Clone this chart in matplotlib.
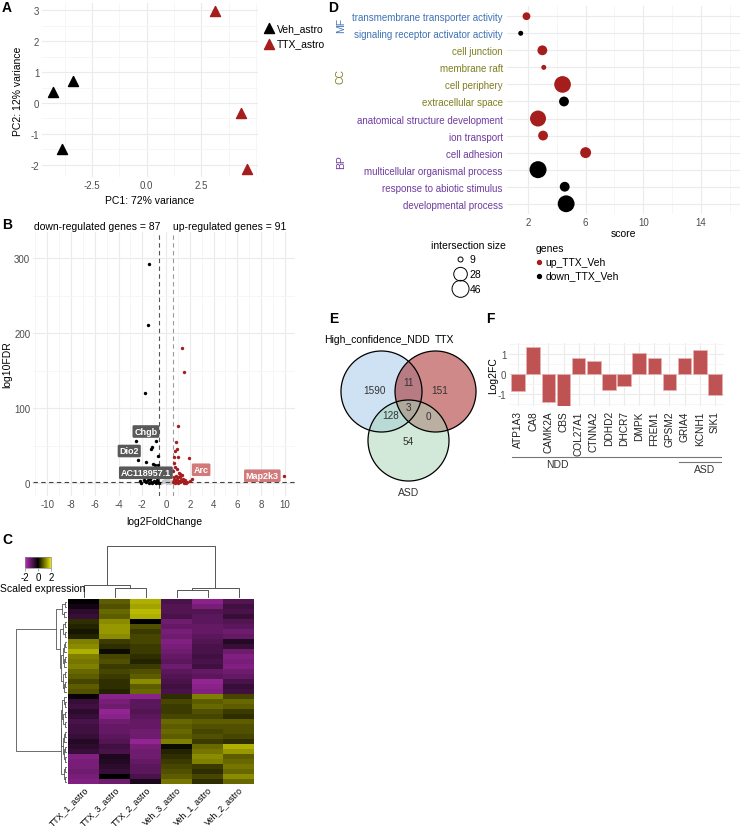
import numpy as np
import matplotlib
matplotlib.use('Agg')
import matplotlib.pyplot as plt
import matplotlib.transforms as mtransforms
from matplotlib.colors import LinearSegmentedColormap
from matplotlib.patches import Circle
from matplotlib.ticker import MultipleLocator

plt.rcParams['font.family'] = ['Liberation Sans', 'DejaVu Sans']
plt.rcParams['axes.unicode_minus'] = False

# ---------------- data ----------------
# A) PCA
pca_groups = ['Veh_astro', 'TTX_astro']
veh_pc1 = [-4.3, -3.4, -3.9]
veh_pc2 = [0.37, 0.70, -1.48]
ttx_pc1 = [3.15, 4.3, 4.6]
ttx_pc2 = [2.98, -0.33, -2.13]

# B) volcano
n_down = 87
n_up = 91
down_lfc = [-1.43, -1.50, -1.76, -0.80, -2.50, -0.85, -1.25, -1.15, -0.65, -2.35,
            -1.70, -1.10, -0.95, -0.70, -2.00, -1.80, -1.60, -1.40, -1.30, -1.20,
            -1.05, -0.90, -0.75, -0.65, -2.20, -1.90, -1.55, -1.35, -1.00, -0.80,
            -0.70, -1.65, -1.45, -1.25, -0.85, -2.10, -1.75, -1.15, -0.95, -0.62]
down_fdr = [293, 211, 120, 65, 57, 57, 46, 48, 37, 31,
            29, 26, 25, 25, 12, 14, 10, 8, 12, 9,
            13, 11, 8, 14, 3, 5, 4, 6, 3, 4,
            2, 2, 1, 2, 1, 1, 3, 1, 2, 1]
up_lfc = [1.37, 1.54, 1.03, 0.84, 0.90, 0.75, 1.93, 0.70, 0.98, 0.65,
          0.72, 0.88, 1.05, 1.20, 0.62, 0.80, 1.00, 1.15, 1.30, 1.45,
          0.68, 0.78, 0.95, 1.10, 1.25, 1.40, 1.60, 1.80, 2.16, 2.05,
          0.60, 0.85, 1.50, 1.70, 9.90, 0.75, 1.00, 0.66, 1.20, 0.90]
up_fdr = [180, 148, 77, 55, 46, 43, 34, 35, 35, 27,
          22, 19, 14, 12, 16, 10, 9, 8, 11, 6,
          5, 4, 6, 3, 5, 3, 4, 2, 6, 3,
          2, 2, 1, 1, 10, 1, 1, 8, 2, 3]
ns_lfc = [-0.40, -0.30, -0.20, -0.10, 0.00, 0.10, 0.20, 0.30, 0.40, -0.05, 0.05, 0.15, -0.15]
ns_fdr = [1, 3, 2, 5, 4, 2, 6, 1, 3, 8, 1, 2, 3]
lab_genes = ['Chgb', 'Dio2', 'AC118957.1', 'Arc', 'Map2k3']
lab_lfc = [-1.7, -3.1, -1.7, 2.95, 8.1]
lab_fdr = [69, 43, 14, 18, 10]
lab_dir = ['down', 'down', 'down', 'up', 'up']

# C) heatmap (row blocks, scaled expression)
samples = ['TTX_1_astro', 'TTX_3_astro', 'TTX_2_astro', 'Veh_3_astro', 'Veh_1_astro', 'Veh_2_astro']
heat = np.array([
    [0.0, 0.8, 1.5, -0.8, -1.5, -0.9],
    [-0.2, 0.7, 1.4, -0.9, -1.3, -0.7],
    [-0.5, 0.9, 1.6, -0.9, -0.9, -0.8],
    [-0.6, 0.8, 1.5, -0.8, -1.0, -0.6],
    [0.4, 1.2, 0.0, -1.2, -1.0, -0.9],
    [0.3, 1.3, 0.7, -1.1, -1.1, -1.0],
    [0.2, 1.3, 0.5, -1.3, -1.1, -1.2],
    [0.3, 1.2, 0.6, -1.2, -1.0, -1.1],
    [1.1, 0.5, 0.6, -1.4, -0.9, -0.4],
    [1.2, 0.4, 0.5, -1.3, -0.8, -0.6],
    [1.5, 0.1, 0.5, -1.2, -0.8, -1.2],
    [1.1, 0.6, 0.4, -1.1, -0.7, -1.4],
    [1.0, 0.7, 0.3, -1.0, -0.8, -1.3],
    [1.1, 0.5, 0.5, -1.2, -0.7, -1.4],
    [0.9, 0.6, 0.7, -1.0, -1.1, -1.2],
    [0.8, 0.5, 0.8, -0.9, -1.0, -1.1],
    [0.6, 0.4, 1.2, -0.8, -1.6, -0.8],
    [0.8, 0.4, 0.8, -0.7, -1.5, -0.6],
    [0.7, 0.3, 0.9, -0.8, -1.4, -0.7],
    [-0.1, -1.5, -1.5, 0.4, 1.1, 0.6],
    [-0.6, -1.3, -1.0, 0.6, 0.8, 0.9],
    [-0.7, -1.2, -1.0, 0.5, 0.9, 0.8],
    [-0.5, -1.6, -0.9, 0.5, 0.7, 0.5],
    [-0.6, -1.5, -1.0, 0.6, 0.6, 0.4],
    [-0.8, -1.2, -1.1, 0.9, 0.8, 0.8],
    [-0.7, -1.1, -1.1, 0.8, 0.7, 0.7],
    [-0.7, -1.1, -1.2, 0.9, 0.6, 0.7],
    [-0.6, -1.0, -1.2, 0.8, 0.7, 0.6],
    [-0.4, -0.9, -1.6, 1.1, 0.5, 0.4],
    [-0.5, -0.7, -1.3, 0.1, 0.9, 1.5],
    [-0.6, -0.8, -1.2, 0.3, 1.0, 1.3],
    [-1.4, -0.3, -1.2, 0.4, 1.2, 0.8],
    [-1.3, -0.4, -1.1, 0.5, 1.1, 0.9],
    [-1.3, -0.5, -1.0, 0.6, 0.5, 1.0],
    [-1.2, -0.6, -1.0, 0.7, 0.4, 0.9],
    [-1.3, 0.0, -0.8, 0.8, 0.6, 1.2],
    [-1.4, -1.2, -0.3, 1.0, 0.4, 0.9],
])
# dendrograms: (left, right, merge height)
col_tree = ((0, (1, 2, 8.7), 12.3), ((3, 4, 7.3), 5, 8.7), 50.7)
row_top = (((0, 1, 1.5), (2, 3, 2), 4),
           (((4, 5, 1.5), (6, 7, 1.5), 3),
            ((((8, 9, 1), 10, 2), ((11, 12, 1), 13, 2), 3.5),
             ((14, 15, 1.5), ((16, 17, 1), 18, 2), 3), 5), 6.5), 10)
row_bot = ((((19, (20, 21, 1), 2), ((22, 23, 1.5), (24, 25, 1.5), 3), 4),
            ((((26, 27, 1), 28, 2), ((29, 30, 1), (31, 32, 1.5), 2.5), 3.5)), 5),
           ((33, 34, 1), (35, 36, 1.5), 2.5), 5.5)
row_tree = (row_top, row_bot, 51)

# D) GO enrichment
go_terms = ['transmembrane transporter activity', 'signaling receptor activator activity',
            'cell junction', 'membrane raft', 'cell periphery', 'extracellular space',
            'anatomical structure development', 'ion transport', 'cell adhesion',
            'multicellular organismal process', 'response to abiotic stimulus',
            'developmental process']
go_source = ['MF', 'MF', 'CC', 'CC', 'CC', 'CC', 'BP', 'BP', 'BP', 'BP', 'BP', 'BP']
go_score = [1.9, 1.5, 3.0, 3.1, 4.4, 4.5, 2.7, 3.05, 6.0, 2.7, 4.55, 4.65]
go_size = [11, 9, 15, 9, 44, 15, 40, 15, 18, 46, 15, 45]
go_genes = ['up_TTX_Veh', 'down_TTX_Veh', 'up_TTX_Veh', 'up_TTX_Veh', 'up_TTX_Veh', 'down_TTX_Veh',
            'up_TTX_Veh', 'up_TTX_Veh', 'up_TTX_Veh', 'down_TTX_Veh', 'down_TTX_Veh', 'down_TTX_Veh']
size_breaks = [9, 28, 46]

# E) Venn
venn_sets = ['High_confidence_NDD', 'TTX', 'ASD']
venn_counts = {'100': 1590, '010': 151, '001': 54, '110': 11, '101': 128, '011': 0, '111': 3}

# F) Log2FC of NDD/ASD genes
f_genes = ['ATP1A3', 'CA8', 'CAMK2A', 'CBS', 'COL27A1', 'CTNNA2', 'DDHD2', 'DHCR7',
           'DMPK', 'FREM1', 'GPSM2', 'GRIA4', 'KCNH1', 'SIK1']
f_lfc = [-0.82, 1.34, -1.36, -1.56, 0.77, 0.64, -0.77, -0.61, 1.05, 0.77, -0.79, 0.77, 1.18, -1.03]
f_groups = ['NDD', 'ASD']
f_group_first = ['ATP1A3', 'GRIA4']
f_group_last = ['SIK1', 'SIK1']

# ---------------- figure ----------------
W, H = 740, 829
fig = plt.figure(figsize=(W / 100, H / 100), dpi=100)
RED = '#a51d1d'
TICK = '#4d4d4d'


def px_ax(x0, y0, x1, y1):
    return fig.add_axes([x0 / W, 1 - y1 / H, (x1 - x0) / W, (y1 - y0) / H])


def minimal(ax, minor=True):
    for s in ax.spines.values():
        s.set_visible(False)
    ax.tick_params(which='both', length=0, labelsize=7, labelcolor=TICK, pad=2)
    ax.grid(True, which='major', color='#ebebeb', lw=0.8)
    if minor:
        ax.grid(True, which='minor', color='#f5f5f5', lw=0.6)
    ax.set_axisbelow(True)


def panel(x, y, s):
    fig.text(x / W, 1 - y / H, s, fontsize=10, fontweight='bold', va='center', ha='left')


def size_to_s(v):
    d = 5 + 12 * np.sqrt((np.asarray(v, float) - 9) / 37.0)
    return (d * 0.72) ** 2


# A) PCA
axA = px_ax(42, 4, 258, 178)
minimal(axA)
hv = axA.scatter(veh_pc1, veh_pc2, marker='^', s=52, color='black', label=pca_groups[0], zorder=3)
ht = axA.scatter(ttx_pc1, ttx_pc2, marker='^', s=52, color=RED, label=pca_groups[1], zorder=3)
axA.set_xlim(-4.8, 5.1)
axA.set_ylim(-2.4, 3.24)
axA.set_xticks([-2.5, 0, 2.5])
axA.set_xticklabels(['-2.5', '0.0', '2.5'])
axA.xaxis.set_minor_locator(MultipleLocator(1.25))
axA.yaxis.set_major_locator(MultipleLocator(1))
axA.yaxis.set_minor_locator(MultipleLocator(0.5))
axA.set_xlabel('PC1: 72% variance', fontsize=7.5, labelpad=4)
axA.set_ylabel('PC2: 12% variance', fontsize=7.5)
axA.yaxis.set_label_coords(-0.088, 0.5)
fig.legend(handles=[hv, ht], loc='upper left', bbox_to_anchor=(257 / W, 1 - 19 / H),
           frameon=False, fontsize=7.5, handletextpad=0.1, labelspacing=0.5,
           handlelength=1.3, borderpad=0)
panel(2, 8, 'A')

# B) volcano
axB = px_ax(33, 233, 295, 497)
minimal(axB)
axB.scatter(ns_lfc, ns_fdr, s=6, color='#c8c8c8', linewidths=0, zorder=2)
axB.scatter(down_lfc, down_fdr, s=6, color='black', linewidths=0, zorder=3)
axB.scatter(up_lfc, up_fdr, s=6, color=RED, linewidths=0, zorder=3)
axB.axvline(-0.58, color='#555555', lw=0.8, dashes=(4, 3), zorder=2)
axB.axvline(0.58, color='#9a9a9a', lw=0.8, dashes=(4, 3), zorder=2)
axB.axhline(1.3, color='#444444', lw=0.8, dashes=(4, 3), zorder=2)
for g, x, y, d in zip(lab_genes, lab_lfc, lab_fdr, lab_dir):
    fc = '#595959' if d == 'down' else '#d27a7a'
    axB.text(x, y, g, fontsize=6.5, fontweight='bold', color='white', ha='center', va='center',
             zorder=5, bbox=dict(boxstyle='round,pad=0.2,rounding_size=0.15', fc=fc, ec='none'))
axB.set_xlim(-11.2, 10.85)
axB.set_ylim(-17, 335)
axB.xaxis.set_major_locator(MultipleLocator(2))
axB.xaxis.set_minor_locator(MultipleLocator(1))
axB.yaxis.set_major_locator(MultipleLocator(100))
axB.yaxis.set_minor_locator(MultipleLocator(50))
axB.text(-5.8, 343, 'down-regulated genes = %d' % n_down, fontsize=7.5, ha='center', va='center', clip_on=False)
axB.text(5.35, 343, 'up-regulated genes = %d' % n_up, fontsize=7.5, ha='center', va='center', clip_on=False)
axB.set_xlabel('log2FoldChange', fontsize=7.5, labelpad=5)
axB.set_ylabel('log10FDR', fontsize=7.5)
axB.yaxis.set_label_coords(-0.08, 0.5)
panel(2, 225, 'B')

# C) heatmap
cmap = LinearSegmentedColormap.from_list('pby', ['#b82fb8', '#000000', '#e8e800'])
axH = px_ax(68, 600, 254, 785)
im = axH.imshow(heat, cmap=cmap, vmin=-2, vmax=2, aspect='auto', interpolation='nearest')
for s in axH.spines.values():
    s.set_visible(False)
axH.set_yticks([])
axH.set_xticks(range(len(samples)))
axH.set_xticklabels(samples, rotation=45, ha='right', rotation_mode='anchor', fontsize=6.4)
axH.tick_params(axis='x', length=0, pad=0.5)


def draw_tree(ax, node, orient):
    if isinstance(node, int):
        return node, 0.0
    left, right, h = node
    p1, h1 = draw_tree(ax, left, orient)
    p2, h2 = draw_tree(ax, right, orient)
    if orient == 'top':
        ax.plot([p1, p1, p2, p2], [h1, h, h, h2], color='#555555', lw=0.7, clip_on=False)
    else:
        ax.plot([h1, h, h, h2], [p1, p1, p2, p2], color='#555555', lw=0.6, clip_on=False)
    return (p1 + p2) / 2, h


axCD = px_ax(68, 547, 254, 598)
draw_tree(axCD, col_tree, 'top')
axCD.set_xlim(-0.5, len(samples) - 0.5)
axCD.set_ylim(0, 50.7)
axCD.axis('off')

axRD = px_ax(16, 600, 67, 785)
draw_tree(axRD, row_tree, 'left')
axRD.set_xlim(51, -1)
axRD.set_ylim(len(heat) - 0.5, -0.5)
axRD.axis('off')

axCB = px_ax(25, 558, 51, 569)
cb = fig.colorbar(im, cax=axCB, orientation='horizontal', ticks=[-2, 0, 2])
cb.outline.set_edgecolor('#888888')
cb.outline.set_linewidth(0.5)
axCB.tick_params(labelsize=7, length=2, width=0.5, color='#888888', pad=1)
fig.text(0, 1 - 589 / H, 'Scaled expression', fontsize=7.5, va='center', ha='left')
panel(2, 540, 'C')

# D) GO dot plot
axD = px_ax(507, 7, 740, 215)
minimal(axD)
ypos = np.arange(len(go_terms))
gene_col = {'up_TTX_Veh': RED, 'down_TTX_Veh': 'black'}
axD.scatter(go_score, ypos, s=size_to_s(go_size), c=[gene_col[g] for g in go_genes],
            linewidths=0, zorder=3)
axD.set_xlim(0.55, 16.7)
axD.set_ylim(len(go_terms) - 0.4, -0.6)
axD.set_yticks(ypos)
axD.set_yticklabels(go_terms)
src_col = {'MF': '#3f72b5', 'CC': '#7f7f22', 'BP': '#6e3c9f'}
for lbl, src in zip(axD.get_yticklabels(), go_source):
    lbl.set_color(src_col[src])
axD.tick_params(axis='y', labelsize=7, pad=3)
axD.set_xticks([2, 6, 10, 14])
axD.set_xticks([4, 8, 12, 16], minor=True)
axD.set_xlabel('score', fontsize=7.5, labelpad=1)
blend = mtransforms.blended_transform_factory(fig.transFigure, axD.transData)
for src in ['MF', 'CC', 'BP']:
    rows = [i for i, s in enumerate(go_source) if s == src]
    fig.text(341 / W, np.mean(rows), src, transform=blend, rotation=90, fontsize=7.5,
             color=src_col[src], ha='center', va='center')
size_handles = [axD.scatter([], [], s=size_to_s(v), facecolors='none', edgecolors='black', linewidths=0.7)
                for v in size_breaks]
fig.text(468 / W, 1 - 246 / H, 'intersection size', fontsize=7.5, ha='center', va='center')
fig.legend(size_handles, [str(v) for v in size_breaks],
           loc='upper left', bbox_to_anchor=(447 / W, 1 - 250 / H), frameon=False,
           fontsize=7.5, labelspacing=0.45, handletextpad=0.1,
           handlelength=1.6, borderpad=0)
gene_handles = [axD.scatter([], [], s=8, color=gene_col[g]) for g in ['up_TTX_Veh', 'down_TTX_Veh']]
fig.legend(gene_handles, ['up_TTX_Veh', 'down_TTX_Veh'], title='genes', alignment='left',
           loc='upper left', bbox_to_anchor=(530 / W, 1 - 239 / H), frameon=False,
           fontsize=7.5, title_fontsize=7.5, labelspacing=0.35, handletextpad=0.2,
           handlelength=0.8, borderpad=0)
panel(328, 8, 'D')

# E) Venn
axE = px_ax(330, 330, 490, 500)
axE.set_xlim(-1.938, 2.012)
axE.set_ylim(-2.654, 1.543)
axE.axis('off')
centres = [(-0.667, 0.0), (0.667, 0.0), (0.0, -1.21)]
fills = ['#9fc7eb', '#a11515', '#a7d5b7']
for (cx, cy), fc in zip(centres, fills):
    axE.add_patch(Circle((cx, cy), 1.0, fc=fc, alpha=0.5, ec='none'))
for cx, cy in centres:
    axE.add_patch(Circle((cx, cy), 1.0, fc='none', ec='black', lw=0.9))
region_xy = {'100': (-0.83, 0.04), '010': (0.78, 0.04), '001': (0.0, -1.22), '110': (0.0, 0.23),
             '101': (-0.43, -0.58), '011': (0.48, -0.6), '111': (0.0, -0.38)}
for key, n in venn_counts.items():
    axE.text(*region_xy[key], str(n), fontsize=7.2, ha='center', va='center', color='#333333')
axE.text(-0.78, 1.30, venn_sets[0], fontsize=7.5, ha='center', va='center', clip_on=False)
axE.text(0.88, 1.30, venn_sets[1], fontsize=7.5, ha='center', va='center', clip_on=False)
axE.text(0.0, -2.48, venn_sets[2], fontsize=7.5, ha='center', va='center', color='#333333')
panel(329, 319, 'E')

# F) bars
axF = px_ax(509, 344, 724, 407)
minimal(axF)
xf = np.arange(1, len(f_genes) + 1)
axF.bar(xf, f_lfc, width=0.9, color='#bf5353', edgecolor='#e9b3b3', linewidth=0.5, zorder=3)
axF.set_xlim(0.4, len(f_genes) + 0.6)
axF.set_ylim(-1.58, 1.53)
axF.set_xticks(xf)
axF.set_xticklabels(f_genes, rotation=90, fontsize=7.3)
axF.tick_params(axis='x', labelcolor='#222222', pad=3)
axF.yaxis.set_major_locator(MultipleLocator(1))
axF.yaxis.set_minor_locator(MultipleLocator(0.5))
axF.set_ylabel('Log2FC', fontsize=7.5)
axF.yaxis.set_label_coords(-0.05, 0.5)
fblend = mtransforms.blended_transform_factory(axF.transData, fig.transFigure)
line_y = [457.7, 463.0]
text_y = [465, 470]
text_x = [3.6, 13.3]
for grp, g0, g1, ly, ty, tx in zip(f_groups, f_group_first, f_group_last, line_y, text_y, text_x):
    x0 = f_genes.index(g0) + 1 - 0.4
    x1 = f_genes.index(g1) + 1 + 0.4
    fig.add_artist(plt.Line2D([x0, x1], [1 - ly / H, 1 - ly / H], transform=fblend,
                              color='#777777', lw=0.8))
    fig.text(tx, 1 - ty / H, grp, transform=fblend, fontsize=7.5, ha='center', va='center',
             color='#333333')
panel(486, 319, 'F')

fig.savefig('out.png', dpi=100)
